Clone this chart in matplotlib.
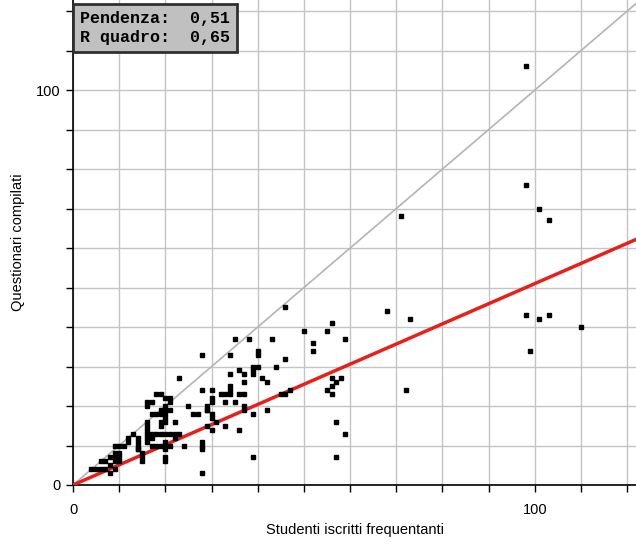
import matplotlib
matplotlib.use('Agg')
import matplotlib.pyplot as plt
import numpy as np

# dati: studenti frequentanti (x) e questionari compilati (y)
studenti = [4, 5, 6, 7, 8, 6, 7, 8, 9, 9, 10, 10, 9, 10, 9, 8, 11, 10, 9, 12,
            12, 13, 14, 14, 14, 14, 15, 15, 15, 16, 16, 16, 16, 16, 16, 16, 16, 17, 17, 17,
            18, 19, 20, 17, 18, 19, 20, 21, 22, 23, 18, 19, 20, 20, 20, 20, 20, 21, 24, 22,
            19, 20, 21, 19, 21, 21, 20, 20, 17, 19, 19, 20, 20, 23, 25, 26, 27, 28, 30, 30,
            30, 29, 29, 28, 33, 34, 32, 33, 35, 34, 36, 37, 37, 37, 39, 42, 34, 36, 37, 37,
            34, 35, 38, 34, 39, 40, 39, 39, 44, 41, 42, 40, 40, 43, 46, 45, 46, 47, 46, 39,
            50, 52, 52, 55, 56, 59, 56, 58, 57, 56, 55, 56, 57, 59, 57, 68, 71, 73, 72, 98,
            98, 101, 103, 98, 101, 103, 110, 99, 28, 28, 28, 28, 30, 31, 29, 33, 29, 30, 30, 36,
            18, 14, 22]
questionari = [4, 4, 4, 4, 3, 6, 6, 7, 7, 6, 7, 6, 8, 8, 4, 5, 10, 10, 10, 11,
               12, 13, 10, 11, 12, 9, 8, 7, 6, 16, 15, 14, 13, 12, 11, 21, 20, 10, 12, 18,
               18, 18, 18, 13, 13, 13, 13, 13, 13, 13, 10, 10, 10, 11, 9, 7, 6, 10, 10, 12,
               19, 19, 19, 23, 22, 21, 20, 22, 21, 16, 15, 17, 16, 27, 20, 18, 18, 24, 24, 22,
               21, 20, 19, 33, 23, 23, 23, 21, 21, 24, 23, 23, 20, 19, 18, 19, 28, 29, 28, 26,
               25, 37, 37, 33, 30, 30, 29, 28, 30, 27, 26, 34, 33, 37, 45, 23, 23, 24, 32, 7,
               39, 36, 34, 39, 41, 37, 27, 27, 26, 25, 24, 23, 16, 13, 7, 44, 68, 42, 24, 106,
               76, 70, 67, 43, 42, 43, 40, 34, 3, 10, 9, 11, 18, 16, 15, 15, 19, 14, 17, 14,
               23, 9, 16]

pendenza = 0.51
r_quadro = 0.65

fig = plt.figure(figsize=(6.36, 5.46), dpi=100)
ax = fig.add_axes([73 / 636, 61 / 546, 563 / 636, 485 / 546])

xmax = 121.9
ymax = 122.8
ax.set_xlim(0, xmax)
ax.set_ylim(0, ymax)

ax.set_xticks(np.arange(0, 121, 10))
ax.set_yticks(np.arange(0, 121, 10))
ax.set_xticklabels(['0' if v == 0 else ('100' if v == 100 else '') for v in range(0, 121, 10)])
ax.set_yticklabels(['0' if v == 0 else ('100' if v == 100 else '') for v in range(0, 121, 10)])
ax.tick_params(direction='out', length=5, width=1, color='black', labelsize=10.5)
ax.tick_params(axis='x', pad=8)
ax.tick_params(axis='y', pad=4)
for lab in ax.get_xticklabels() + ax.get_yticklabels():
    lab.set_fontfamily('Liberation Sans')

ax.grid(True, color='#c4c4c4', linewidth=1)
ax.set_axisbelow(True)
for s in ['top', 'right']:
    ax.spines[s].set_visible(False)
for s in ['left', 'bottom']:
    ax.spines[s].set_linewidth(1.2)

# bisettrice e retta di regressione
xs = np.array([0, xmax])
ax.plot(xs, xs, color='#b4b4b4', linewidth=1.2, zorder=2)
ax.plot(xs, pendenza * xs, color='#e8201c', linewidth=2.5, zorder=3)

ax.plot(studenti, questionari, 's', color='black', markersize=2.6, zorder=4)

ax.set_xlabel('Studenti iscritti frequentanti', fontsize=10.5, family='Liberation Sans', labelpad=4)
ax.set_ylabel('Questionari compilati', fontsize=10.5, family='Liberation Sans', labelpad=8)

txt = 'Pendenza:  0,51\nR quadro:  0,65'
ax.text(0.013, 0.978, txt, transform=ax.transAxes, ha='left', va='top',
        family='Liberation Mono', fontweight='bold', fontsize=12, linespacing=1.4,
        bbox=dict(boxstyle='square,pad=0.42', facecolor='#c0c0c0', edgecolor='#303030', linewidth=2),
        zorder=6)

fig.savefig('out.png', dpi=100)
